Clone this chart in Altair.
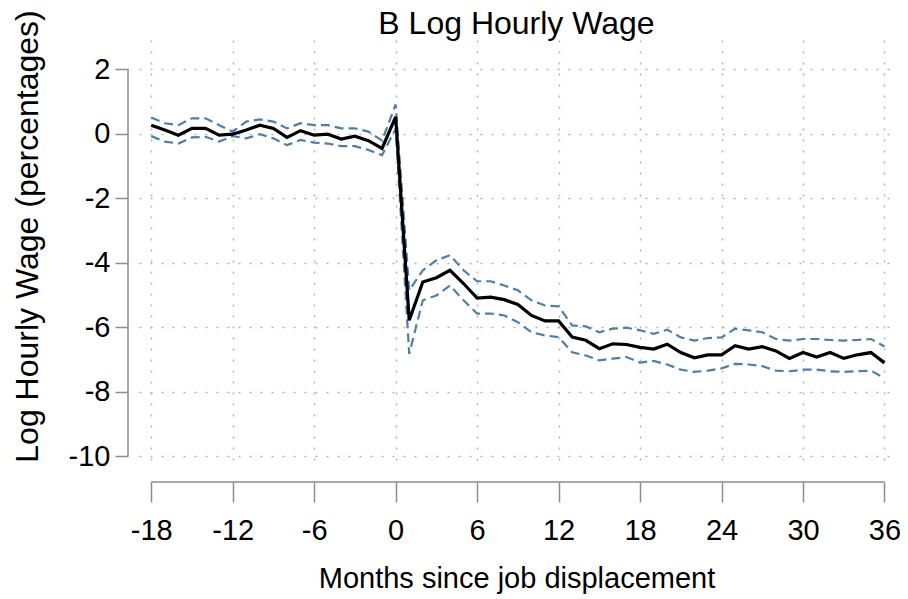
import altair as alt
import pandas as pd

months = list(range(-18, 37))
estimate = [0.26, 0.11, -0.05, 0.16, 0.16, -0.05, -0.02, 0.11, 0.26, 0.16,
            -0.12, 0.09, -0.05, -0.02, -0.17, -0.08, -0.22, -0.46, 0.52,
            -5.79, -4.60, -4.47, -4.24, -4.65, -5.10, -5.07, -5.15, -5.30, -5.64,
            -5.81, -5.81, -6.31, -6.41, -6.67, -6.52, -6.54,
            -6.63, -6.68, -6.53, -6.79, -6.95, -6.86, -6.86, -6.58, -6.68, -6.61,
            -6.74, -6.97, -6.79, -6.93, -6.79, -6.97, -6.86, -6.79, -7.11]
upper = [0.50, 0.32, 0.26, 0.47, 0.47, 0.26, 0.06, 0.37, 0.44, 0.37,
         0.16, 0.32, 0.26, 0.26, 0.16, 0.16, 0.06, -0.22, 0.90,
         -4.86, -4.24, -3.93, -3.77, -4.24, -4.58, -4.58, -4.71, -4.86, -5.17,
         -5.33, -5.36, -5.95, -5.98, -6.16, -6.05, -6.02,
         -6.10, -6.21, -6.08, -6.32, -6.42, -6.34, -6.32, -6.05, -6.10, -6.16,
         -6.37, -6.42, -6.37, -6.37, -6.40, -6.42, -6.40, -6.37, -6.60]
lower = [-0.08, -0.25, -0.31, -0.12, -0.10, -0.25, -0.08, -0.15, -0.02, -0.15,
         -0.36, -0.20, -0.28, -0.31, -0.39, -0.39, -0.51, -0.67, 0.15,
         -6.83, -5.17, -5.02, -4.71, -5.17, -5.58, -5.58, -5.64, -5.85, -6.16,
         -6.26, -6.31, -6.78, -6.88, -7.03, -6.98, -6.93,
         -7.10, -7.05, -7.16, -7.32, -7.39, -7.35, -7.28, -7.14, -7.16, -7.21,
         -7.35, -7.37, -7.32, -7.32, -7.37, -7.39, -7.37, -7.35, -7.58]

x_ticks = [-18, -12, -6, 0, 6, 12, 18, 24, 30, 36]
y_ticks = [2, 0, -2, -4, -6, -8, -10]

title_text = "B Log Hourly Wage"
x_title = "Months since job displacement"
y_title = "Log Hourly Wage (percentages)"

FONT = "Liberation Sans"
AXIS_GRAY = "#8c8c8c"
GRID_GRAY = "#b4b4b4"
BAND_BLUE = "#4f7fa6"

W, H = 755, 429
X_OFF, Y_OFF = 13, 11
HYPHEN = "replace(datum.label, '\u2212', '-')"

df = pd.DataFrame({"month": months, "est": estimate, "upper": upper, "lower": lower})
est_df = df[["month", "est"]].rename(columns={"est": "value"})
band_df = df.melt(id_vars="month", value_vars=["upper", "lower"],
                  var_name="bound", value_name="value")

x_scale = alt.Scale(domain=[-18.9, 36.7], nice=False, zero=False)
y_scale = alt.Scale(domain=[-10.4, 2.9], nice=False, zero=False)

x_axis = alt.Axis(values=x_ticks, title=x_title, domain=False, offset=X_OFF,
                  tickSize=20, tickColor=AXIS_GRAY, tickWidth=1.5,
                  labelFont=FONT, labelFontSize=29, labelColor="black",
                  labelPadding=14, labelFlush=False, labelOverlap=False,
                  labelExpr=HYPHEN,
                  titleFont=FONT, titleFontSize=29, titleFontWeight="normal",
                  titleColor="black", titlePadding=19,
                  grid=True, gridDash=[2, 9], gridColor=GRID_GRAY, gridWidth=1.5)
y_axis = alt.Axis(values=y_ticks, title=y_title, domain=False, offset=Y_OFF,
                  tickSize=13, tickColor=AXIS_GRAY, tickWidth=1.5,
                  labelFont=FONT, labelFontSize=29, labelColor="black",
                  labelPadding=5, labelFlush=False, labelOverlap=False,
                  labelExpr=HYPHEN,
                  titleFont=FONT, titleFontSize=32, titleFontWeight="normal",
                  titleColor="black", titlePadding=24, titleY=196,
                  grid=True, gridDash=[2, 9], gridColor=GRID_GRAY, gridWidth=1.5)

X = alt.X("month:Q", scale=x_scale, axis=x_axis)
Y = alt.Y("value:Q", scale=y_scale, axis=y_axis)

bands = alt.Chart(band_df).mark_line(
    color=BAND_BLUE, strokeWidth=2.2, strokeDash=[9, 5]
).encode(x=X, y=Y, detail="bound:N")

line = alt.Chart(est_df).mark_line(color="black", strokeWidth=3.2).encode(x=X, y=Y)

# axis lines that span only the tick range (Stata style)
y_line_df = pd.DataFrame({"value": [y_ticks[0]], "value2": [y_ticks[-1]]})
x_line_df = pd.DataFrame({"month": [x_ticks[0]], "month2": [x_ticks[-1]]})

y_axis_line = alt.Chart(y_line_df).mark_rule(color=AXIS_GRAY, strokeWidth=1.5).encode(
    y=Y, y2="value2:Q", x=alt.value(-Y_OFF))
x_axis_line = alt.Chart(x_line_df).mark_rule(color=AXIS_GRAY, strokeWidth=1.5).encode(
    x=X, x2="month2:Q", y=alt.value(H + X_OFF))

chart = alt.layer(bands, line, y_axis_line, x_axis_line).properties(
    width=W, height=H,
    title=alt.TitleParams(title_text, font=FONT, fontSize=32, fontWeight="normal",
                          color="black", anchor="middle", offset=5, dy=36),
    autosize=alt.AutoSizeParams(type="none"),
    padding={"left": 131, "top": 32, "right": 6, "bottom": 126},
    background="white",
).configure_view(stroke=None)

chart.save("out.html", embed_options={"renderer": "svg", "actions": False})
